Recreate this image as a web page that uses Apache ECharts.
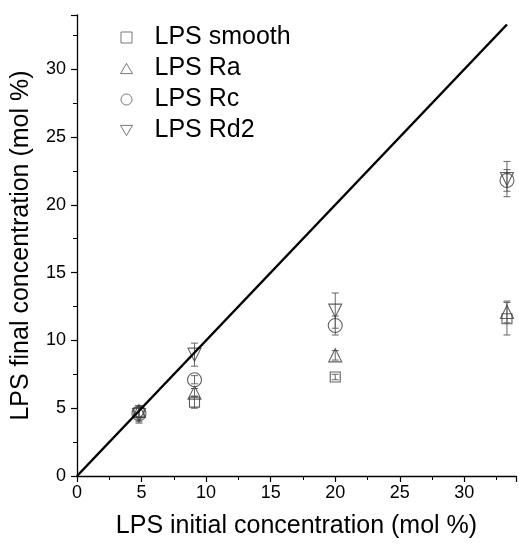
<!DOCTYPE html>
<html>
<head>
<meta charset="utf-8">
<script src="https://cdn.jsdelivr.net/npm/echarts@6/dist/echarts.min.js"></script>
<style>
html,body{margin:0;padding:0;background:#fff;}
#chart{width:519px;height:544px;}
</style>
</head>
<body>
<div id="chart"></div>
<script>
// x positions (initial concentration, mol %)
const xInitial = [4.8, 9.1, 20, 33.3];
// final concentration values
const smoothVals = [4.7, 5.45, 7.3, 11.6];
const smoothErr  = [0.5, 0.45, 0.2, 1.2];
const raVals = [4.8, 6.15, 8.9, 12.1];
const raErr  = [0.4, 0.3, 0.35, 0.8];
const rcVals = [4.6, 7.1, 11.1, 21.8];
const rcErr  = [0.6, 0.3, 0.7, 0.8];
const rd2Vals = [4.5, 8.95, 12.2, 21.9];
const rd2Err  = [0.6, 0.85, 1.3, 1.3];
const identityLine = [[0, 0], [33.3, 33.3]];
const seriesNames = ['LPS smooth', 'LPS Ra', 'LPS Rc', 'LPS Rd2'];
const xTitle = 'LPS initial concentration (mol %)';
const yTitle = 'LPS final concentration (mol %)';

const FONT = 'Liberation Sans, Arial, sans-serif';
const MARK = '#3a3a3a';
const ERR = '#666';
const CLEAR = 'rgba(255,255,255,0)';

function pts(vals) { return vals.map((v, i) => [xInitial[i], v]); }
function errData(vals, errs) { return vals.map((v, i) => [xInitial[i], v - errs[i], v + errs[i]]); }

function errSeries(vals, errs) {
  return {
    type: 'custom',
    silent: true,
    z: 1,
    data: errData(vals, errs),
    renderItem: function (params, api) {
      const x = api.value(0);
      const lo = api.coord([x, api.value(1)]);
      const hi = api.coord([x, api.value(2)]);
      const w = 3.5;
      const st = { stroke: ERR, lineWidth: 1, fill: null };
      return {
        type: 'group',
        children: [
          { type: 'line', shape: { x1: lo[0], y1: lo[1], x2: hi[0], y2: hi[1] }, style: st },
          { type: 'line', shape: { x1: hi[0] - w, y1: hi[1], x2: hi[0] + w, y2: hi[1] }, style: st },
          { type: 'line', shape: { x1: lo[0] - w, y1: lo[1], x2: lo[0] + w, y2: lo[1] }, style: st }
        ]
      };
    }
  };
}

function scatter(name, vals, symbol, size, rotate) {
  return {
    name: name,
    type: 'scatter',
    data: pts(vals),
    symbol: symbol,
    symbolSize: size,
    symbolRotate: rotate || 0,
    z: 3,
    itemStyle: { color: CLEAR, borderColor: MARK, borderWidth: 1.1 },
    emphasis: { disabled: true }
  };
}

const legendStyle = { color: CLEAR, borderColor: '#555', borderWidth: 1 };

const chart = echarts.init(document.getElementById('chart'), null, { renderer: 'canvas' });
chart.setOption({
  animation: false,
  backgroundColor: '#fff',
  grid: { left: 77, right: 0, top: 15, bottom: 63, containLabel: false },
  legend: {
    orient: 'vertical',
    left: 115,
    top: 20,
    itemWidth: 12,
    itemHeight: 11,
    itemGap: 6,
    textStyle: { fontFamily: FONT, fontSize: 25, color: '#000', lineHeight: 25, padding: [0, 0, 0, 17] },
    data: [
      { name: seriesNames[0], icon: 'path://M0,0L9,0L9,9L0,9Z', itemStyle: legendStyle },
      { name: seriesNames[1], icon: 'path://M5,0L10,8.5L0,8.5Z', itemStyle: legendStyle },
      { name: seriesNames[2], icon: 'circle', itemStyle: legendStyle },
      { name: seriesNames[3], icon: 'path://M0,0L10,0L5,8.5Z', itemStyle: legendStyle }
    ]
  },
  xAxis: {
    type: 'value',
    min: 0, max: 34, interval: 5,
    name: xTitle,
    nameLocation: 'middle',
    nameGap: 38,
    nameTextStyle: { fontFamily: FONT, fontSize: 25, color: '#000' },
    axisLine: { onZero: false, lineStyle: { color: '#000', width: 1.3 } },
    axisTick: { show: true, inside: false, length: 6, lineStyle: { color: '#000', width: 1.2 } },
    minorTick: { show: true, splitNumber: 2, length: 4, lineStyle: { color: '#000', width: 1 } },
    axisLabel: { fontFamily: FONT, fontSize: 18, color: '#000', margin: 8,
      formatter: v => (v % 5 === 0 ? String(v) : '') },
    splitLine: { show: false }
  },
  yAxis: {
    type: 'value',
    min: 0, max: 34, interval: 5,
    name: yTitle,
    nameLocation: 'middle',
    nameGap: 43,
    nameTextStyle: { fontFamily: FONT, fontSize: 25, color: '#000' },
    axisLine: { onZero: false, lineStyle: { color: '#000', width: 1.3 } },
    axisTick: { show: true, inside: false, length: 6, lineStyle: { color: '#000', width: 1.2 } },
    minorTick: { show: true, splitNumber: 2, length: 4, lineStyle: { color: '#000', width: 1 } },
    axisLabel: { fontFamily: FONT, fontSize: 18, color: '#000', margin: 11,
      formatter: v => (v % 5 === 0 ? String(v) : '') },
    splitLine: { show: false }
  },
  series: [
    errSeries(smoothVals, smoothErr),
    errSeries(raVals, raErr),
    errSeries(rcVals, rcErr),
    errSeries(rd2Vals, rd2Err),
    scatter(seriesNames[0], smoothVals, 'rect', 10),
    scatter(seriesNames[1], raVals, 'triangle', 13),
    scatter(seriesNames[2], rcVals, 'circle', 14),
    scatter(seriesNames[3], rd2Vals, 'triangle', 13, 180),
    {
      type: 'line',
      data: identityLine,
      showSymbol: false,
      symbol: 'none',
      silent: true,
      z: 4,
      lineStyle: { color: '#000', width: 2.5 }
    }
  ]
});
</script>
</body>
</html>
